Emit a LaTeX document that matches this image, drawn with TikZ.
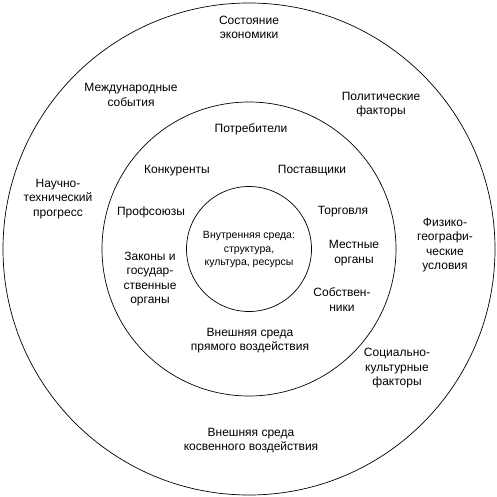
\documentclass[tikz,border=0pt]{standalone}
\usepackage{fontspec}
\setmainfont{Liberation Sans}
\begin{document}
\begin{tikzpicture}[x=1pt,y=-1pt,
  ring/.style={draw=black,line width=0.7pt,circle,inner sep=0pt,outer sep=0pt},
  lbl/.style={align=center,inner sep=0pt,font=\fontsize{12}{14.5}\selectfont},
  small/.style={align=center,inner sep=0pt,font=\fontsize{10.5}{13.5}\selectfont}]
\fill[white] (0,0) rectangle (497,497);
\useasboundingbox (0,0) rectangle (497,497);
\node[ring,minimum size=492pt] (outer) at (249,249) {};
\node[ring,minimum size=294pt] (middle) at (249,249) {};
\node[ring,minimum size=125pt] (inner) at (249,249) {};
\node[small] (core) at (249,249.5) {Внутренняя среда:\\структура,\\культура, ресурсы};
\node[lbl] (econ) at (249,27.5) {Состояние\\экономики};
\node[lbl] (intl) at (131,95) {Международные\\события};
\node[lbl] (pol) at (381,104.5) {Политические\\факторы};
\node[lbl] (sci) at (58,199) {Научно-\\технический\\прогресс};
\node[lbl] (geo) at (445,245) {Физико-\\географи-\\ческие\\условия};
\node[lbl] (soc) at (397,368.5) {Социально-\\культурные\\факторы};
\node[lbl] (indir) at (251,440.5) {Внешняя среда\\косвенного воздействия};
\node[lbl] (cons) at (251,129) {Потребители};
\node[lbl] (comp) at (177,171) {Конкуренты};
\node[lbl] (supp) at (312,171) {Поставщики};
\node[lbl] (union) at (151,212) {Профсоюзы};
\node[lbl] (trade) at (343,212) {Торговля};
\node[lbl] (local) at (354,253) {Местные\\органы};
\node[lbl] (laws) at (150,279) {Законы и\\государ-\\ственные\\органы};
\node[lbl] (own) at (342,299.5) {Собствен-\\ники};
\node[lbl] (direct) at (250,340.5) {Внешняя среда\\прямого воздействия};
\end{tikzpicture}
\end{document}
